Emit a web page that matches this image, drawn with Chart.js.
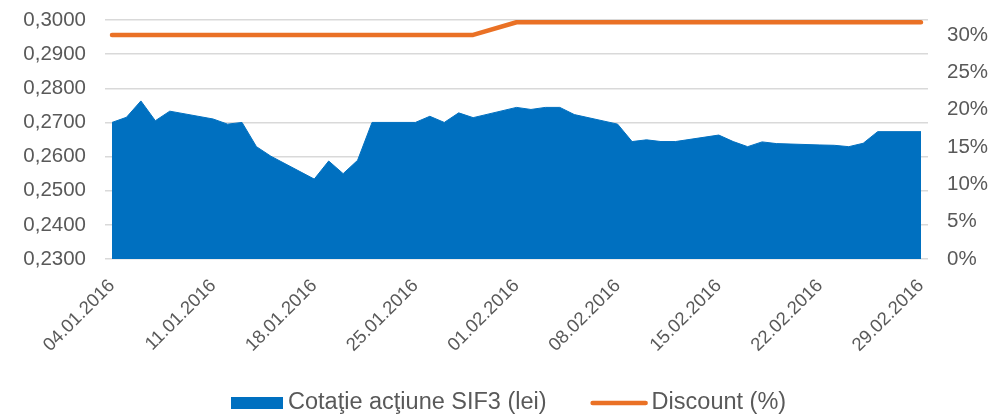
<!DOCTYPE html>
<html>
<head>
<meta charset="utf-8">
<script src="https://cdn.jsdelivr.net/npm/chart.js@4/dist/chart.umd.min.js"></script>
<style>
  html, body { margin: 0; padding: 0; background: #fff; }
  #wrap { width: 991px; height: 417px; position: relative; }
</style>
</head>
<body>
<div id="wrap"><canvas id="sifChart"></canvas></div>
<script>
// trading days
const tradeDates = [
  "04.01.2016", "05.01.2016", "06.01.2016", "07.01.2016", "08.01.2016",
  "11.01.2016", "12.01.2016", "13.01.2016", "14.01.2016", "15.01.2016",
  "18.01.2016", "19.01.2016", "20.01.2016", "21.01.2016", "22.01.2016",
  "25.01.2016", "26.01.2016", "27.01.2016", "28.01.2016", "29.01.2016",
  "01.02.2016", "02.02.2016", "03.02.2016", "04.02.2016", "05.02.2016",
  "08.02.2016", "09.02.2016", "10.02.2016", "11.02.2016", "12.02.2016",
  "15.02.2016", "16.02.2016", "17.02.2016", "18.02.2016", "19.02.2016",
  "22.02.2016", "23.02.2016", "24.02.2016", "25.02.2016", "26.02.2016",
  "29.02.2016"
];
const prices = [
  0.2700, 0.2715, 0.2763, 0.2705, 0.2733,
  0.2710, 0.2695, 0.2700, 0.2629, 0.2601,
  0.2534, 0.2587, 0.2550, 0.2589, 0.2700,
  0.2700, 0.2718, 0.2700, 0.2728, 0.2714,
  0.2744, 0.2738, 0.2744, 0.2744, 0.2723,
  0.2695, 0.2644, 0.2649, 0.2644, 0.2644,
  0.2663, 0.2644, 0.2629, 0.2643, 0.2638,
  0.2634, 0.2633, 0.2629, 0.2639, 0.2673,
  0.2673
];
const discount = [
  0.30, 0.30, 0.30, 0.30, 0.30,
  0.30, 0.30, 0.30, 0.30, 0.30,
  0.30, 0.30, 0.30, 0.30, 0.30,
  0.30, 0.30, 0.30, 0.30, 0.30,
  0.317, 0.317, 0.317, 0.317, 0.317,
  0.317, 0.317, 0.317, 0.317, 0.317,
  0.317, 0.317, 0.317, 0.317, 0.317,
  0.317, 0.317, 0.317, 0.317, 0.317,
  0.317
];
const tickLabels = [
  "04.01.2016", "11.01.2016", "18.01.2016", "25.01.2016", "01.02.2016",
  "08.02.2016", "15.02.2016", "22.02.2016", "29.02.2016"
];
const discountTicks = [0, 0.05, 0.10, 0.15, 0.20, 0.25, 0.30];
const seriesNames = ["Cotaţie acţiune SIF3 (lei)", "Discount (%)"];

const BLUE = "#0070c0";
const ORANGE = "#ea7125";
const TEXT = "#595959";
const FONT = "Liberation Sans, Arial, sans-serif";

// day number counted from the first tick label
function dayNo(s) {
  const [d, m, y] = s.split(".").map(Number);
  const [d0, m0, y0] = tickLabels[0].split(".").map(Number);
  return Math.round((Date.UTC(y, m - 1, d) - Date.UTC(y0, m0 - 1, d0)) / 86400000);
}
const xs = tradeDates.map(dayNo);
const tickDays = tickLabels.map(dayNo);
const lastDay = tickDays[tickDays.length - 1];
const edge = 7 * lastDay / 809; // gridlines run 7px past the data on each side

// legend drawn under the axis labels
const legendPlugin = {
  id: "bottomLegend",
  afterDraw(chart) {
    const ctx = chart.ctx;
    const y = 403;
    ctx.save();
    ctx.font = "23.5px " + FONT;
    ctx.textBaseline = "middle";
    ctx.fillStyle = BLUE;
    ctx.fillRect(231, y - 6, 52, 12);
    ctx.fillStyle = TEXT;
    ctx.fillText(seriesNames[0], 288, y);
    let x = 288 + ctx.measureText(seriesNames[0]).width + 46;
    ctx.strokeStyle = ORANGE;
    ctx.lineWidth = 4.5;
    ctx.lineCap = "round";
    ctx.beginPath();
    ctx.moveTo(x, y);
    ctx.lineTo(x + 53, y);
    ctx.stroke();
    ctx.fillText(seriesNames[1], x + 59, y);
    ctx.restore();
  }
};

const ctx = document.getElementById("sifChart").getContext("2d");
new Chart(ctx, {
  type: "line",
  data: {
    datasets: [
      {
        label: seriesNames[1],
        data: xs.map((x, i) => ({ x: x, y: discount[i] })),
        yAxisID: "yR",
        borderColor: ORANGE,
        borderWidth: 4.5,
        borderCapStyle: "round",
        borderJoinStyle: "round",
        pointRadius: 0,
        fill: false,
        order: 0
      },
      {
        label: seriesNames[0],
        data: xs.map((x, i) => ({ x: x, y: prices[i] })),
        yAxisID: "y",
        borderColor: BLUE,
        backgroundColor: BLUE,
        borderWidth: 1,
        pointRadius: 0,
        fill: "start",
        order: 1
      }
    ]
  },
  options: {
    responsive: true,
    maintainAspectRatio: false,
    animation: false,
    layout: { padding: { top: 20, left: 0, right: 0, bottom: 0 } },
    plugins: { legend: { display: false }, tooltip: { enabled: false } },
    scales: {
      x: {
        type: "linear",
        min: -edge,
        max: lastDay + edge,
        afterBuildTicks: s => { s.ticks = tickDays.map(v => ({ value: v })); },
        afterFit: s => { s.height = 158; },
        grid: { display: false, drawTicks: false },
        border: { display: false },
        ticks: {
          autoSkip: false,
          minRotation: 45,
          maxRotation: 45,
          padding: 16,
          color: TEXT,
          font: { family: FONT, size: 18.5 },
          callback: (v, i) => tickLabels[i]
        }
      },
      y: {
        position: "left",
        min: 0.23,
        max: 0.30,
        afterFit: s => { s.width = 105; },
        // invisible tick marks keep the labels away from the plot
        grid: { color: "#d9d9d9", lineWidth: 1.5, drawTicks: true, tickLength: 19, tickColor: "rgba(0,0,0,0)" },
        border: { display: false },
        ticks: {
          stepSize: 0.01,
          padding: 0,
          color: TEXT,
          font: { family: FONT, size: 20.5 },
          callback: v => v.toFixed(4).replace(".", ",")
        }
      },
      yR: {
        position: "right",
        min: 0,
        max: 0.32,
        afterBuildTicks: s => { s.ticks = discountTicks.map(v => ({ value: v })); },
        afterFit: s => { s.width = 63; },
        grid: { drawOnChartArea: false, drawTicks: true, tickLength: 19, tickColor: "rgba(0,0,0,0)" },
        border: { display: false },
        ticks: {
          padding: 0,
          color: TEXT,
          font: { family: FONT, size: 20.5 },
          callback: v => Math.round(v * 100) + "%"
        }
      }
    }
  },
  plugins: [legendPlugin]
});
</script>
</body>
</html>
